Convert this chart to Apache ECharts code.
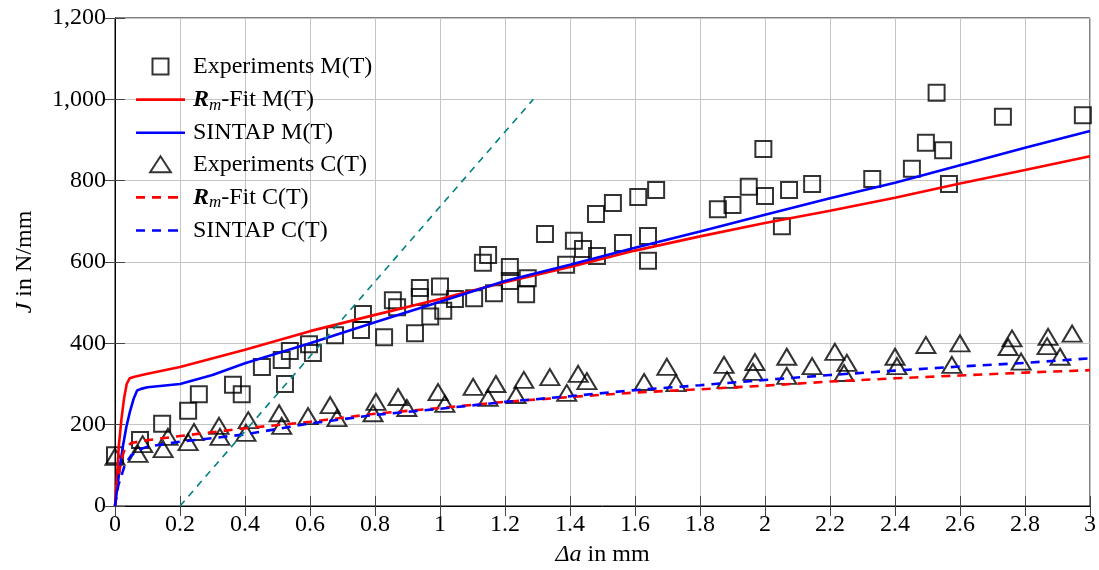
<!DOCTYPE html>
<html>
<head>
<meta charset="utf-8">
<script src="https://cdn.jsdelivr.net/npm/echarts@6/dist/echarts.min.js"></script>
<style>
html,body{margin:0;padding:0;background:#fff;}
#chart{width:1099px;height:570px;}
</style>
</head>
<body>
<div id="chart"></div>
<script>
// ---- tick labels ----
const xTickLabels = ['0','0.2','0.4','0.6','0.8','1','1.2','1.4','1.6','1.8','2','2.2','2.4','2.6','2.8','3'];
const yTickLabels = ['0','200','400','600','800','1,000','1,200'];

// ---- series data [Δa, J] ----
const expM = [
  [0,125],[0.077,162],[0.145,202],[0.225,234],[0.258,275],[0.363,298],[0.39,275],
  [0.452,342],[0.513,359],[0.523,300],[0.538,381],[0.597,398],[0.609,376],[0.677,420],
  [0.757,433],[0.763,472],[0.828,415],[0.855,506],[0.868,489],[0.923,425],[0.938,536],
  [0.938,514],[0.97,466],[1.0,540],[1.01,480],[1.046,509],[1.105,511],[1.132,598],
  [1.148,617],[1.166,523],[1.215,588],[1.215,553],[1.265,521],[1.27,560],[1.323,669],
  [1.388,593],[1.412,652],[1.44,632],[1.48,718],[1.483,615],[1.532,745],[1.563,647],
  [1.61,760],[1.64,664],[1.64,603],[1.665,777],[1.855,730],[1.90,740],[1.95,785],
  [1.995,878],[2.0,762],[2.052,688],[2.074,777],[2.145,792],[2.33,804],[2.452,829],
  [2.495,893],[2.528,1016],[2.548,875],[2.566,792],[2.732,957],[2.978,961]
];
const rmFitM = [
  [0,0],[0.005,60],[0.012,150],[0.02,215],[0.028,265],[0.036,300],[0.045,314],[0.06,318],
  [0.1,325],[0.2,342],[0.4,384],[0.6,430],[0.8,470],[1.0,509],[1.2,550],[1.4,588],
  [1.6,628],[1.8,663],[2.0,696],[2.2,726],[2.4,758],[2.6,793],[2.8,826],[3.0,860]
];
const sintapM = [
  [0,0],[0.008,50],[0.015,97],[0.025,150],[0.035,195],[0.046,232],[0.058,265],[0.068,284],
  [0.08,288],[0.1,292],[0.2,300],[0.3,322],[0.4,351],[0.6,400],[0.8,452],[1.0,502],
  [1.2,553],[1.4,593],[1.6,635],[1.8,675],[2.0,716],[2.2,757],[2.4,795],[2.6,838],
  [2.8,881],[3.0,922]
];
const expC = [
  [0,121],[0.071,128],[0.085,152],[0.148,140],[0.163,170],[0.225,157],[0.243,182],
  [0.32,197],[0.323,170],[0.403,180],[0.41,211],[0.505,228],[0.513,197],[0.594,221],
  [0.662,248],[0.683,216],[0.794,228],[0.803,256],[0.871,268],[0.898,241],[0.994,280],
  [1.015,251],[1.102,293],[1.148,266],[1.172,300],[1.234,273],[1.258,310],[1.338,317],
  [1.39,278],[1.425,325],[1.452,307],[1.628,305],[1.698,342],[1.726,302],[1.874,347],
  [1.883,310],[1.963,330],[1.969,354],[2.067,367],[2.067,320],[2.145,344],[2.215,379],
  [2.252,352],[2.243,327],[2.4,367],[2.406,344],[2.495,396],[2.575,347],[2.6,400],
  [2.76,412],[2.748,391],[2.788,355],[2.871,416],[2.868,393],[2.908,367],[2.945,424]
];
const rmFitC = [
  [0,0],[0.01,70],[0.02,115],[0.03,140],[0.05,155],[0.1,162],[0.2,172],[0.4,191],
  [0.6,207],[0.8,227],[1.0,241],[1.2,256],[1.4,268],[1.6,279],[1.8,287],[2.0,296],
  [2.2,306],[2.4,314],[2.6,321],[2.8,328],[3.0,334]
];
const sintapC = [
  [0,0],[0.01,50],[0.03,100],[0.05,125],[0.08,140],[0.1,146],[0.2,158],[0.4,176],
  [0.6,203],[0.8,224],[1.0,239],[1.2,256],[1.4,270],[1.6,285],[1.8,297],[2.0,310],
  [2.2,322],[2.4,333],[2.6,343],[2.8,352],[3.0,363]
];
const offsetLine = [[0.2,0],[1.287,1000]];

const FONT = '"Liberation Serif", "DejaVu Serif", serif';
const FS = 24;

const ICON_SQUARE = 'path://M0,0L16,0L16,16L0,16Z';
const ICON_TRI = 'path://M11,0L22,17L0,17Z';
const ICON_SOLID = 'path://M0,0H49V2.6H0Z';
const ICON_DASH = 'path://M0,0H9V2.6H0Z M16,0H25V2.6H16Z M32,0H42V2.6H32Z M48.95,1.29H49V1.31H48.95Z';

const chart = echarts.init(document.getElementById('chart'), null, {renderer:'canvas'});

function lineSeries(name, data, color, dashed) {
  return {
    name, type:'line', data, symbol:'none', showSymbol:false, smooth:false,
    lineStyle:{color, width:2.6, type: dashed ? [9,7] : 'solid'},
    itemStyle:{color}, emphasis:{disabled:true}, silent:true, z:3
  };
}
function scatterSeries(name, data, symbol, size) {
  return {
    name, type:'scatter', data, symbol, symbolSize:size,
    itemStyle:{color:'rgba(255,255,255,0)', borderColor:'#000', borderWidth:2},
    emphasis:{disabled:true}, silent:true, z:2
  };
}

const axisTextStyle = {fontFamily:FONT, fontSize:FS, color:'#000'};

const option = {
  animation:false,
  backgroundColor:'#fff',
  grid:{left:115, right:9, top:18, bottom:64, containLabel:false, outerBoundsMode:'none',
        show:true, borderColor:'#000', borderWidth:1, backgroundColor:'transparent'},
  legend:{
    orient:'vertical', left:131, top:49, itemWidth:49, itemHeight:16, itemGap:6.6,
    selectedMode:false,
    data:[
      {name:'Experiments M(T)', icon:ICON_SQUARE},
      {name:'Rm-Fit M(T)', icon:ICON_SOLID},
      {name:'SINTAP M(T)', icon:ICON_SOLID},
      {name:'Experiments C(T)', icon:ICON_TRI},
      {name:'Rm-Fit C(T)', icon:ICON_DASH},
      {name:'SINTAP C(T)', icon:ICON_DASH}
    ],
    formatter:function(name){
      if (name.indexOf('Rm-Fit') === 0) {
        return '{b|R}{s|m}{t|-Fit ' + name.slice(7) + '}';
      }
      return '{t|' + name + '}';
    },
    textStyle:{
      fontFamily:FONT, fontSize:FS, color:'#000', lineHeight:25, padding:[0,0,0,3],
      rich:{
        t:{fontFamily:FONT, fontSize:FS, color:'#000', lineHeight:25},
        b:{fontFamily:FONT, fontSize:FS, color:'#000', fontWeight:'bold', fontStyle:'italic', lineHeight:25},
        s:{fontFamily:FONT, fontSize:17, color:'#000', fontStyle:'italic', lineHeight:14, padding:[11,0,0,0]}
      }
    }
  },
  xAxis:[{
    type:'value', min:0, max:3, interval:0.2, position:'bottom',
    name:'{i|Δa} in mm', nameLocation:'middle', nameGap:37,
    nameTextStyle:{fontFamily:FONT, fontSize:FS, color:'#000',
      rich:{i:{fontFamily:FONT, fontSize:FS, color:'#000', fontStyle:'italic'}}},
    axisLine:{show:true, onZero:false, lineStyle:{color:'#000', width:1}},
    axisTick:{show:true, inside:true, length:10, lineStyle:{color:'#444', width:1}},
    axisLabel:Object.assign({margin:7, formatter:(v)=>xTickLabels[Math.round(v/0.2)]}, axisTextStyle),
    splitLine:{show:true, lineStyle:{color:'#c4c4c4', width:1}}
  },{
    type:'value', min:0, max:3, interval:0.2, position:'top',
    axisLine:{show:false},
    axisTick:{show:true, inside:true, length:10, lineStyle:{color:'#444', width:1}},
    axisLabel:{show:false}, splitLine:{show:false}
  }],
  yAxis:[{
    type:'value', min:0, max:1200, interval:200, position:'left',
    name:'{i|J} in N/mm', nameLocation:'middle', nameGap:78,
    nameTextStyle:{fontFamily:FONT, fontSize:FS, color:'#000',
      rich:{i:{fontFamily:FONT, fontSize:FS, color:'#000', fontStyle:'italic'}}},
    axisLine:{show:true, onZero:false, lineStyle:{color:'#000', width:1}},
    axisTick:{show:true, inside:true, length:10, lineStyle:{color:'#444', width:1}},
    axisLabel:Object.assign({margin:9, formatter:(v)=>yTickLabels[Math.round(v/200)]}, axisTextStyle),
    splitLine:{show:true, lineStyle:{color:'#c4c4c4', width:1}}
  },{
    type:'value', min:0, max:1200, interval:200, position:'right',
    axisLine:{show:false},
    axisTick:{show:true, inside:true, length:10, lineStyle:{color:'#444', width:1}},
    axisLabel:{show:false}, splitLine:{show:false}
  }],
  series:[
    scatterSeries('Experiments M(T)', expM, 'rect', 16),
    lineSeries('Rm-Fit M(T)', rmFitM, '#ff0000', false),
    lineSeries('SINTAP M(T)', sintapM, '#0000ff', false),
    scatterSeries('Experiments C(T)', expC, 'triangle', [19,16]),
    lineSeries('Rm-Fit C(T)', rmFitC, '#ff0000', true),
    lineSeries('SINTAP C(T)', sintapC, '#0000ff', true),
    {
      name:'offset', type:'line', data:offsetLine, symbol:'none', showSymbol:false,
      lineStyle:{color:'#008080', width:1.6, type:[7,6]}, silent:true, z:4
    }
  ]
};
chart.setOption(option);
</script>
</body>
</html>
